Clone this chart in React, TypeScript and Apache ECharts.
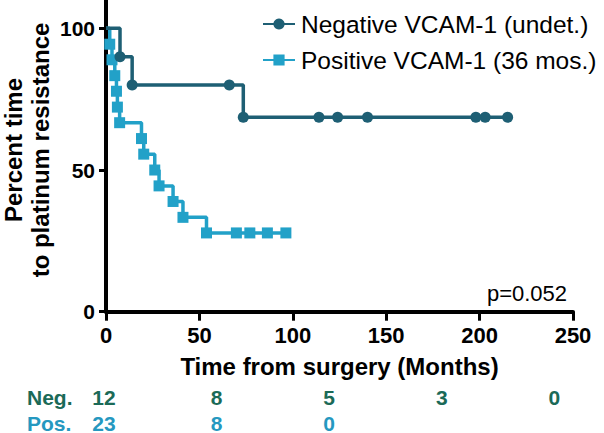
import React, { useEffect, useRef } from "react";
import * as echarts from "echarts";

// Negative VCAM-1 (undet.)
const negTime = [0, 7.5, 14, 66, 73.5, 114, 124, 140, 198, 203, 215];
const negSurv = [100, 90, 80, 80, 68.6, 68.6, 68.6, 68.6, 68.6, 68.6, 68.6];
// Positive VCAM-1 (36 mos.)
const posTime = [0, 2, 3.2, 4.7, 5.6, 6.1, 7.3, 19, 20.2, 26.1, 28.4, 35.9, 41.2, 53.8, 69.8, 77, 86.4, 96.3];
const posSurv = [100, 94.4, 88.9, 83.3, 77.8, 72.2, 66.7, 61.1, 55.6, 50, 44.4, 38.9, 33.3, 27.8, 27.8, 27.8, 27.8, 27.8];

const xTicks = [0, 50, 100, 150, 200, 250];
const yTicks = [0, 50, 100];

const riskNeg = ["12", "8", "5", "3", "0"];
const riskPos = ["23", "8", "0"];

const negName = "Negative VCAM-1 (undet.)";
const posName = "Positive VCAM-1 (36 mos.)";
const pValue = "p=0.052";

const NEG = "#1e5f74";
const POS = "#22a1c8";
const NEG_TXT = "#1b6a57";
const POS_TXT = "#2598c0";
const FONT = "'Liberation Sans', Arial, Helvetica, sans-serif";

function toData(t: number[], s: number[]) {
  return t.map((v, i) =>
    i === 0 ? { value: [v, s[i]], symbol: "none" } : { value: [v, s[i]] }
  );
}

export default function App() {
  const ref = useRef<HTMLDivElement>(null);
  useEffect(() => {
    if (!ref.current) return;
    const chart = echarts.init(ref.current, null, { renderer: "svg" });
    const riskX = (i: number) => 104 + i * 112.6;
    const graphics: any[] = [
      {
        type: "text",
        x: 26.5,
        y: 150,
        rotation: Math.PI / 2,
        style: {
          text: "Percent time\nto platinum resistance",
          font: `bold 24px ${FONT}`,
          fill: "#000",
          align: "center",
          verticalAlign: "middle",
          lineHeight: 27,
        },
      },
      {
        type: "text",
        x: 527,
        y: 293,
        style: {
          text: pValue,
          font: `22px ${FONT}`,
          fill: "#000",
          align: "center",
          verticalAlign: "middle",
        },
      },
      {
        type: "text",
        x: 27,
        y: 397,
        style: { text: "Neg.", font: `bold 21px ${FONT}`, fill: NEG_TXT, align: "left", verticalAlign: "middle" },
      },
      {
        type: "text",
        x: 27,
        y: 423,
        style: { text: "Pos.", font: `bold 21px ${FONT}`, fill: POS_TXT, align: "left", verticalAlign: "middle" },
      },
    ];
    riskNeg.forEach((v, i) =>
      graphics.push({
        type: "text",
        x: riskX(i),
        y: 397,
        style: { text: v, font: `bold 21px ${FONT}`, fill: NEG_TXT, align: "center", verticalAlign: "middle" },
      })
    );
    riskPos.forEach((v, i) =>
      graphics.push({
        type: "text",
        x: riskX(i),
        y: 423,
        style: { text: v, font: `bold 21px ${FONT}`, fill: POS_TXT, align: "center", verticalAlign: "middle" },
      })
    );

    chart.setOption({
      animation: false,
      textStyle: { fontFamily: FONT },
      grid: { left: 106, right: 31, top: 0, bottom: 121.3, containLabel: false },
      legend: {
        orient: "vertical",
        left: 257,
        top: 6,
        itemWidth: 32,
        itemHeight: 14,
        itemGap: 10,
        data: [negName, posName],
        textStyle: { fontSize: 24.5, color: "#000", lineHeight: 26, padding: [0, 0, 0, 1], fontFamily: FONT },
      },
      xAxis: {
        type: "value",
        min: 0,
        max: 250,
        interval: 50,
        name: "Time from surgery (Months)",
        nameLocation: "middle",
        nameGap: 43,
        nameTextStyle: { fontSize: 24, fontWeight: "bold", color: "#000", fontFamily: FONT },
        axisLine: { lineStyle: { color: "#000", width: 4 } },
        axisTick: { length: 9, lineStyle: { color: "#000", width: 3 } },
        axisLabel: { fontSize: 22, fontWeight: "bold", color: "#000", margin: 13, fontFamily: FONT },
        splitLine: { show: false },
      },
      yAxis: {
        type: "value",
        min: 0,
        max: 110,
        interval: 50,
        axisLine: { show: true, lineStyle: { color: "#000", width: 4 } },
        axisTick: { show: true, length: 7, customValues: yTicks, lineStyle: { color: "#000", width: 3 } },
        axisLabel: { fontSize: 21, fontWeight: "bold", color: "#000", margin: 11, customValues: yTicks, fontFamily: FONT },
        splitLine: { show: false },
      },
      series: [
        {
          name: posName,
          type: "line",
          step: "end",
          data: toData(posTime, posSurv),
          symbol: "rect",
          symbolSize: 11,
          z: 2,
          color: POS,
          lineStyle: { color: POS, width: 3.5 },
          itemStyle: { color: POS },
        },
        {
          name: negName,
          type: "line",
          step: "end",
          data: toData(negTime, negSurv),
          symbol: "circle",
          symbolSize: 11,
          z: 3,
          color: NEG,
          lineStyle: { color: NEG, width: 3.5 },
          itemStyle: { color: NEG },
        },
      ],
      graphic: graphics,
    });
    return () => chart.dispose();
  }, []);
  return (
    <div
      ref={ref}
      style={{ position: "absolute", left: 0, top: 0, width: 604, height: 433, background: "#fff" }}
    />
  );
}
